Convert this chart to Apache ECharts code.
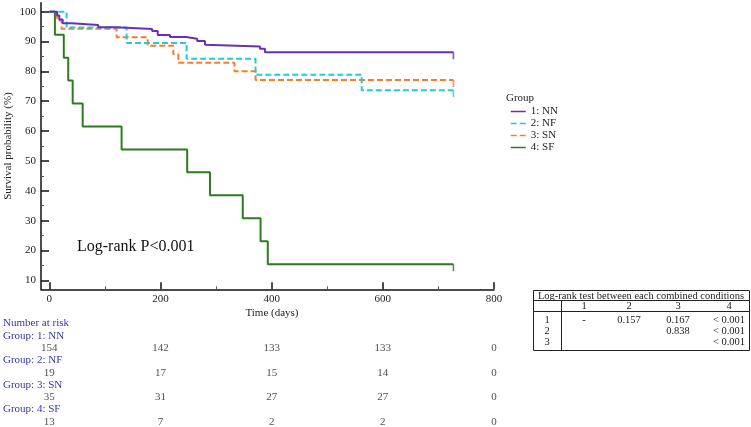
<!DOCTYPE html>
<html>
<head>
<meta charset="utf-8">
<script src="https://cdn.jsdelivr.net/npm/echarts/dist/echarts.min.js"></script>
<style>
  html, body { margin: 0; padding: 0; background: #fff; }
  #chart { width: 751px; height: 427px; }
</style>
</head>
<body>
<div id="chart"></div>
<script>
// ---- Data ----
const timeTicks = [0, 200, 400, 600, 800];
const timeMinorTicks = [100, 300, 500, 700];
const survTicks = [10, 20, 30, 40, 50, 60, 70, 80, 90, 100];
const survMinorTicks = [15, 25, 35, 45, 55, 65, 75, 85, 95];

const groupNames = ['1: NN', '2: NF', '3: SN', '4: SF'];

const nnTime = [0, 14, 18, 24, 40, 88, 120, 185, 195, 217, 246, 266, 280, 283, 379, 388, 727];
const nnSurv = [100, 98.7, 97.4, 96.1, 95.5, 94.8, 94.2, 93.5, 92.2, 91.5, 90.9, 90.2, 88.9, 88.3, 87.6, 86.4, 86.4];

const nfTime = [0, 31, 139, 247, 371, 562, 727];
const nfSurv = [100, 94.7, 89.5, 84.2, 78.9, 73.7, 73.7];

const snTime = [0, 14, 22, 121, 177, 223, 232, 333, 371, 727];
const snSurv = [100, 97.1, 94.3, 91.4, 88.6, 85.7, 82.9, 80.0, 77.1, 77.1];

const sfTime = [0, 10, 26, 34, 42, 60, 130, 248, 289, 348, 380, 393, 727];
const sfSurv = [100, 92.3, 84.6, 76.9, 69.2, 61.5, 53.8, 46.2, 38.5, 30.8, 23.1, 15.4, 15.4];

const riskTimes = [0, 200, 400, 600, 800];
const riskNN = [154, 142, 133, 133, 0];
const riskNF = [19, 17, 15, 14, 0];
const riskSN = [35, 31, 27, 27, 0];
const riskSF = [13, 7, 2, 2, 0];

const tableTitle = 'Log-rank test between each combined conditions';
const tableHeader = ['1', '2', '3', '4'];
const tableRowLabels = ['1', '2', '3'];
const tableRow1 = ['-', '0.157', '0.167', '< 0.001'];
const tableRow2 = ['', '', '0.838', '< 0.001'];
const tableRow3 = ['', '', '', '< 0.001'];

const pValueText = 'Log-rank P<0.001';
const xAxisTitle = 'Time (days)';
const yAxisTitle = 'Survival probability (%)';

// ---- Styles ----
const colors = ['#6a2fb8', '#22ccd4', '#ff7a2a', '#2a7d1e'];
const lineTypes = ['solid', [6, 3], [6, 3], 'solid'];
const FONT = 'Liberation Serif';
const BLUE = '#3535b0';

const curves = [[nnTime, nnSurv], [nfTime, nfSurv], [snTime, snSurv], [sfTime, sfSurv]];
const risks = [riskNN, riskNF, riskSN, riskSF];

const series = curves.map((c, i) => ({
  name: groupNames[i],
  type: 'line',
  step: 'end',
  xAxisIndex: 0,
  yAxisIndex: 0,
  data: c[0].map((t, k) => [t, c[1][k]]),
  showSymbol: false,
  symbol: 'none',
  itemStyle: { color: colors[i] },
  lineStyle: { color: colors[i], width: 2, type: lineTypes[i] },
  animation: false,
  silent: true,
  z: 10 - i
}));

// end-of-follow-up censor ticks
curves.forEach((c, i) => {
  const n = c[0].length - 1;
  series.push({
    type: 'scatter',
    xAxisIndex: 0,
    yAxisIndex: 0,
    symbol: 'rect',
    symbolSize: [1.6, 7],
    symbolOffset: [0, 3.5],
    itemStyle: { color: colors[i] },
    data: [[c[0][n], c[1][n]]],
    animation: false,
    silent: true,
    z: 10 - i
  });
});

risks.forEach((r, i) => {
  series.push({
    type: 'scatter',
    xAxisIndex: 2,
    yAxisIndex: 2,
    symbol: 'circle',
    symbolSize: 1,
    itemStyle: { color: 'rgba(0,0,0,0)' },
    data: riskTimes.map((t, k) => [t, i, r[k]]),
    label: {
      show: true,
      position: 'inside',
      formatter: p => String(p.value[2]),
      color: '#222',
      fontFamily: FONT,
      fontSize: 11
    },
    animation: false,
    silent: true
  });
});

// table graphics
const TF = '10.5px "Liberation Serif"';
const tX0 = 533, tX1 = 749, tY0 = 290, tY1 = 350;
const colX = [584, 629, 678, 729];
const rowY = [320.7, 331.7, 342.3];
const tableEls = [
  { type: 'rect', shape: { x: tX0 + 0.5, y: tY0 + 0.5, width: tX1 - tX0, height: tY1 - tY0 }, style: { fill: 'none', stroke: '#222', lineWidth: 1 } },
  { type: 'line', shape: { x1: tX0, y1: 300.5, x2: tX1, y2: 300.5 }, style: { stroke: '#222', lineWidth: 1 } },
  { type: 'line', shape: { x1: tX0, y1: 311.5, x2: tX1, y2: 311.5 }, style: { stroke: '#222', lineWidth: 1 } },
  { type: 'line', shape: { x1: 561.5, y1: 300.5, x2: 561.5, y2: tY1 }, style: { stroke: '#222', lineWidth: 1 } },
  { type: 'text', x: (tX0 + tX1) / 2, y: 295.8, style: { text: tableTitle, font: TF, fill: '#222', align: 'center', verticalAlign: 'middle' } }
];
tableHeader.forEach((h, k) => tableEls.push({ type: 'text', x: colX[k], y: 306.2, style: { text: h, font: TF, fill: '#222', align: 'center', verticalAlign: 'middle' } }));
[tableRow1, tableRow2, tableRow3].forEach((row, r) => {
  tableEls.push({ type: 'text', x: 547, y: rowY[r], style: { text: tableRowLabels[r], font: TF, fill: '#222', align: 'center', verticalAlign: 'middle' } });
  row.forEach((v, k) => {
    if (v) tableEls.push({ type: 'text', x: colX[k], y: rowY[r], style: { text: v, font: TF, fill: '#222', align: 'center', verticalAlign: 'middle' } });
  });
});

// number-at-risk labels
const riskLabelEls = [
  { type: 'text', x: 3, y: 323.3, style: { text: 'Number at risk', font: '11px "Liberation Serif"', fill: BLUE, verticalAlign: 'middle' } }
];
groupNames.forEach((g, i) => riskLabelEls.push({ type: 'text', x: 3, y: 335.7 + i * 24.6, style: { text: 'Group: ' + g, font: '11px "Liberation Serif"', fill: BLUE, verticalAlign: 'middle' } }));

const axisCommon = {
  axisLine: { show: true, onZero: false, lineStyle: { color: '#111', width: 1.5 } },
  splitLine: { show: false }
};

const chart = echarts.init(document.getElementById('chart'), null, { renderer: 'canvas' });
chart.setOption({
  backgroundColor: '#fff',
  animation: false,
  grid: [
    { left: 41, right: 257, top: 2.7, bottom: 137.7, containLabel: false, outerBoundsMode: 'none' },
    { left: 41, right: 257, top: 348.3, height: 73.7, containLabel: false, outerBoundsMode: 'none' }
  ],
  xAxis: [
    Object.assign({
      type: 'value', gridIndex: 0, min: -15, max: 800, position: 'bottom',
      axisTick: { show: true, inside: true, length: 7, customValues: timeTicks, lineStyle: { color: '#111', width: 1.5 } },
      axisLabel: { show: true, customValues: timeTicks, fontFamily: FONT, fontSize: 11, color: '#222', margin: 4 }
    }, axisCommon),
    {
      type: 'value', gridIndex: 0, min: -15, max: 800, position: 'bottom',
      axisLine: { show: false, onZero: false }, splitLine: { show: false },
      axisTick: { show: true, inside: true, length: 3, customValues: timeMinorTicks, lineStyle: { color: '#555', width: 1 } },
      axisLabel: { show: false }
    },
    {
      type: 'value', gridIndex: 1, min: -15, max: 800, show: false
    }
  ],
  yAxis: [
    Object.assign({
      type: 'value', gridIndex: 0, min: 7, max: 103, position: 'left',
      axisTick: { show: true, inside: true, length: 8, customValues: survTicks, lineStyle: { color: '#111', width: 1.5 } },
      axisLabel: { show: true, customValues: survTicks, fontFamily: FONT, fontSize: 11, color: '#222', margin: 5 }
    }, axisCommon),
    {
      type: 'value', gridIndex: 0, min: 7, max: 103, position: 'left',
      axisLine: { show: false, onZero: false }, splitLine: { show: false },
      axisTick: { show: true, inside: true, length: 3, customValues: survMinorTicks, lineStyle: { color: '#555', width: 1 } },
      axisLabel: { show: false }
    },
    {
      type: 'value', gridIndex: 1, min: 0, max: 3, inverse: true, show: false
    }
  ],
  legend: {
    orient: 'vertical',
    left: 505,
    top: 101,
    itemWidth: 15,
    itemHeight: 8,
    itemGap: 1,
    data: groupNames,
    itemStyle: { opacity: 0 },
    lineStyle: { width: 1.5 },
    textStyle: { fontFamily: FONT, fontSize: 11, color: '#222' },
    selectedMode: false
  },
  graphic: [
    { type: 'text', x: 506, y: 98, style: { text: 'Group', font: '11px "Liberation Serif"', fill: '#222', verticalAlign: 'middle' } },
    { type: 'text', x: 77, y: 246.5, style: { text: pValueText, font: '16px "Liberation Serif"', fill: '#111', verticalAlign: 'middle' } },
    { type: 'text', x: 272, y: 313, style: { text: xAxisTitle, font: '11px "Liberation Serif"', fill: '#222', align: 'center', verticalAlign: 'middle' } },
    { type: 'text', x: 8, y: 146, rotation: Math.PI / 2, style: { text: yAxisTitle, font: '11px "Liberation Serif"', fill: '#222', align: 'center', verticalAlign: 'middle' } }
  ].concat(tableEls, riskLabelEls),
  series: series
});
</script>
</body>
</html>
